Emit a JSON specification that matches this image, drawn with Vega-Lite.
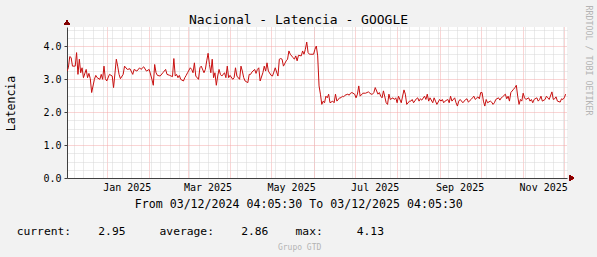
{
  "$schema": "https://vega.github.io/schema/vega-lite/v6.json",
  "width": 500,
  "height": 151,
  "autosize": {"type": "none"},
  "padding": {"left": 67, "top": 27, "right": 30, "bottom": 79},
  "background": "#f2f2f2",
  "view": {"fill": "#ffffff", "stroke": null},
  "config": {
    "font": "DejaVu Sans Mono",
    "axis": {"labelFont": "DejaVu Sans Mono", "titleFont": "DejaVu Sans Mono", "titleFontWeight": "normal"}
  },
  "title": {
    "text": "current:\u00a0\u00a0\u00a0\u00a02.95\u00a0\u00a0\u00a0\u00a0\u00a0average:\u00a0\u00a0\u00a0\u00a02.86\u00a0\u00a0\u00a0\u00a0max:\u00a0\u00a0\u00a0\u00a0\u00a04.13",
    "subtitle": "\u2800\u00a0\u00a0\u00a0\u00a0\u00a0\u00a0\u00a0\u00a0\u00a0\u00a0\u00a0\u00a0\u00a0\u00a0\u00a0\u00a0\u00a0\u00a0\u00a0\u00a0\u00a0\u00a0\u00a0\u00a0\u00a0\u00a0\u00a0\u00a0\u00a0\u00a0\u00a0\u00a0\u00a0\u00a0\u00a0\u00a0\u00a0\u00a0\u00a0\u00a0\u00a0\u00a0\u00a0\u00a0\u00a0\u00a0\u00a0\u00a0\u00a0\u00a0\u00a0\u00a0\u00a0Grupo GTD",
    "orient": "bottom",
    "anchor": "start",
    "frame": "group",
    "align": "left",
    "dx": -50.3,
    "offset": 16,
    "font": "DejaVu Sans Mono",
    "fontSize": 11.3,
    "fontWeight": "normal",
    "color": "#000000",
    "subtitleFont": "DejaVu Sans Mono",
    "subtitleFontSize": 8,
    "subtitleColor": "#b4b4b4",
    "subtitlePadding": 7
  },
  "data": {
    "values": [
      {"d": "2024-12-03", "v": 3.24}, {"d": "2024-12-04", "v": 3.34}, {"d": "2024-12-05", "v": 3.68}, {"d": "2024-12-06", "v": 3.65},
      {"d": "2024-12-07", "v": 3.39}, {"d": "2024-12-09", "v": 3.39}, {"d": "2024-12-10", "v": 3.80}, {"d": "2024-12-11", "v": 3.14},
      {"d": "2024-12-12", "v": 3.60}, {"d": "2024-12-13", "v": 3.19}, {"d": "2024-12-14", "v": 3.34}, {"d": "2024-12-15", "v": 3.04},
      {"d": "2024-12-17", "v": 3.29}, {"d": "2024-12-18", "v": 3.04}, {"d": "2024-12-19", "v": 3.17}, {"d": "2024-12-20", "v": 3.01},
      {"d": "2024-12-21", "v": 2.59}, {"d": "2024-12-23", "v": 2.99}, {"d": "2024-12-24", "v": 3.11}, {"d": "2024-12-25", "v": 3.04},
      {"d": "2024-12-27", "v": 2.99}, {"d": "2024-12-28", "v": 3.14}, {"d": "2024-12-29", "v": 2.99}, {"d": "2024-12-30", "v": 3.39},
      {"d": "2024-12-31", "v": 3.01}, {"d": "2025-01-01", "v": 2.94}, {"d": "2025-01-03", "v": 3.14}, {"d": "2025-01-05", "v": 3.09},
      {"d": "2025-01-06", "v": 2.74}, {"d": "2025-01-08", "v": 3.60}, {"d": "2025-01-09", "v": 3.39}, {"d": "2025-01-10", "v": 3.14},
      {"d": "2025-01-11", "v": 3.01}, {"d": "2025-01-13", "v": 3.14}, {"d": "2025-01-14", "v": 3.39}, {"d": "2025-01-16", "v": 3.29},
      {"d": "2025-01-18", "v": 3.31}, {"d": "2025-01-20", "v": 3.14}, {"d": "2025-01-21", "v": 3.29}, {"d": "2025-01-23", "v": 3.24},
      {"d": "2025-01-25", "v": 3.34}, {"d": "2025-01-26", "v": 3.29}, {"d": "2025-01-28", "v": 3.37}, {"d": "2025-01-30", "v": 3.24},
      {"d": "2025-02-01", "v": 3.29}, {"d": "2025-02-03", "v": 2.99}, {"d": "2025-02-04", "v": 2.81}, {"d": "2025-02-05", "v": 3.44},
      {"d": "2025-02-06", "v": 3.19}, {"d": "2025-02-07", "v": 3.11}, {"d": "2025-02-09", "v": 3.09}, {"d": "2025-02-11", "v": 3.19},
      {"d": "2025-02-13", "v": 3.29}, {"d": "2025-02-14", "v": 3.14}, {"d": "2025-02-16", "v": 3.11}, {"d": "2025-02-17", "v": 3.09},
      {"d": "2025-02-18", "v": 3.07}, {"d": "2025-02-19", "v": 3.62}, {"d": "2025-02-20", "v": 3.09}, {"d": "2025-02-21", "v": 3.14},
      {"d": "2025-02-22", "v": 3.04}, {"d": "2025-02-23", "v": 3.11}, {"d": "2025-02-24", "v": 2.99}, {"d": "2025-02-26", "v": 2.94},
      {"d": "2025-02-27", "v": 3.04}, {"d": "2025-02-28", "v": 3.11}, {"d": "2025-03-01", "v": 3.19}, {"d": "2025-03-03", "v": 3.34},
      {"d": "2025-03-04", "v": 3.29}, {"d": "2025-03-05", "v": 3.19}, {"d": "2025-03-06", "v": 3.49}, {"d": "2025-03-07", "v": 3.09},
      {"d": "2025-03-09", "v": 2.99}, {"d": "2025-03-10", "v": 3.34}, {"d": "2025-03-11", "v": 3.39}, {"d": "2025-03-13", "v": 3.19},
      {"d": "2025-03-14", "v": 3.29}, {"d": "2025-03-15", "v": 3.55}, {"d": "2025-03-16", "v": 3.78}, {"d": "2025-03-17", "v": 3.44},
      {"d": "2025-03-18", "v": 3.19}, {"d": "2025-03-19", "v": 3.60}, {"d": "2025-03-20", "v": 3.04}, {"d": "2025-03-21", "v": 3.19},
      {"d": "2025-03-22", "v": 2.81}, {"d": "2025-03-23", "v": 3.09}, {"d": "2025-03-24", "v": 3.29}, {"d": "2025-03-25", "v": 3.14},
      {"d": "2025-03-26", "v": 3.09}, {"d": "2025-03-28", "v": 3.19}, {"d": "2025-03-29", "v": 3.04}, {"d": "2025-03-30", "v": 3.39},
      {"d": "2025-03-31", "v": 3.04}, {"d": "2025-04-01", "v": 3.11}, {"d": "2025-04-03", "v": 2.99}, {"d": "2025-04-04", "v": 3.04},
      {"d": "2025-04-05", "v": 3.34}, {"d": "2025-04-06", "v": 3.09}, {"d": "2025-04-08", "v": 2.99}, {"d": "2025-04-09", "v": 3.39},
      {"d": "2025-04-10", "v": 3.24}, {"d": "2025-04-11", "v": 3.04}, {"d": "2025-04-12", "v": 2.94}, {"d": "2025-04-14", "v": 2.89},
      {"d": "2025-04-15", "v": 3.14}, {"d": "2025-04-16", "v": 3.14}, {"d": "2025-04-17", "v": 3.21}, {"d": "2025-04-19", "v": 3.29},
      {"d": "2025-04-20", "v": 3.17}, {"d": "2025-04-21", "v": 3.29}, {"d": "2025-04-22", "v": 3.34}, {"d": "2025-04-23", "v": 2.94},
      {"d": "2025-04-25", "v": 3.19}, {"d": "2025-04-26", "v": 3.39}, {"d": "2025-04-27", "v": 3.24}, {"d": "2025-04-28", "v": 3.49},
      {"d": "2025-04-29", "v": 3.24}, {"d": "2025-05-01", "v": 3.11}, {"d": "2025-05-02", "v": 3.09}, {"d": "2025-05-03", "v": 3.21},
      {"d": "2025-05-04", "v": 3.34}, {"d": "2025-05-06", "v": 3.09}, {"d": "2025-05-07", "v": 3.60}, {"d": "2025-05-08", "v": 3.62},
      {"d": "2025-05-09", "v": 3.60}, {"d": "2025-05-10", "v": 3.39}, {"d": "2025-05-12", "v": 3.55}, {"d": "2025-05-13", "v": 3.60},
      {"d": "2025-05-14", "v": 3.85}, {"d": "2025-05-15", "v": 3.75}, {"d": "2025-05-17", "v": 3.65}, {"d": "2025-05-18", "v": 3.60},
      {"d": "2025-05-19", "v": 3.70}, {"d": "2025-05-20", "v": 3.55}, {"d": "2025-05-21", "v": 3.72}, {"d": "2025-05-23", "v": 3.70},
      {"d": "2025-05-24", "v": 3.85}, {"d": "2025-05-25", "v": 3.75}, {"d": "2025-05-26", "v": 3.90}, {"d": "2025-05-27", "v": 4.12},
      {"d": "2025-05-28", "v": 3.80}, {"d": "2025-05-29", "v": 3.75}, {"d": "2025-05-30", "v": 3.75}, {"d": "2025-06-01", "v": 3.75},
      {"d": "2025-06-02", "v": 3.90}, {"d": "2025-06-03", "v": 4.00}, {"d": "2025-06-04", "v": 3.70}, {"d": "2025-06-05", "v": 2.79},
      {"d": "2025-06-06", "v": 2.54}, {"d": "2025-06-07", "v": 2.23}, {"d": "2025-06-08", "v": 2.33}, {"d": "2025-06-09", "v": 2.28},
      {"d": "2025-06-10", "v": 2.48}, {"d": "2025-06-11", "v": 2.43}, {"d": "2025-06-12", "v": 2.54}, {"d": "2025-06-13", "v": 2.28},
      {"d": "2025-06-15", "v": 2.33}, {"d": "2025-06-16", "v": 2.28}, {"d": "2025-06-17", "v": 2.54}, {"d": "2025-06-18", "v": 2.33},
      {"d": "2025-06-20", "v": 2.43}, {"d": "2025-06-21", "v": 2.43}, {"d": "2025-06-22", "v": 2.48}, {"d": "2025-06-23", "v": 2.46},
      {"d": "2025-06-24", "v": 2.51}, {"d": "2025-06-26", "v": 2.54}, {"d": "2025-06-27", "v": 2.51}, {"d": "2025-06-28", "v": 2.57},
      {"d": "2025-06-29", "v": 2.59}, {"d": "2025-07-01", "v": 2.54}, {"d": "2025-07-02", "v": 2.43}, {"d": "2025-07-03", "v": 2.54},
      {"d": "2025-07-04", "v": 2.79}, {"d": "2025-07-05", "v": 2.48}, {"d": "2025-07-07", "v": 2.57}, {"d": "2025-07-09", "v": 2.57},
      {"d": "2025-07-10", "v": 2.59}, {"d": "2025-07-11", "v": 2.61}, {"d": "2025-07-13", "v": 2.54}, {"d": "2025-07-14", "v": 2.54},
      {"d": "2025-07-15", "v": 2.59}, {"d": "2025-07-16", "v": 2.74}, {"d": "2025-07-18", "v": 2.54}, {"d": "2025-07-19", "v": 2.59},
      {"d": "2025-07-20", "v": 2.48}, {"d": "2025-07-21", "v": 2.43}, {"d": "2025-07-22", "v": 2.64}, {"d": "2025-07-24", "v": 2.28},
      {"d": "2025-07-25", "v": 2.23}, {"d": "2025-07-26", "v": 2.54}, {"d": "2025-07-27", "v": 2.38}, {"d": "2025-07-29", "v": 2.43},
      {"d": "2025-07-30", "v": 2.38}, {"d": "2025-07-31", "v": 2.43}, {"d": "2025-08-01", "v": 2.28}, {"d": "2025-08-02", "v": 2.48},
      {"d": "2025-08-04", "v": 2.28}, {"d": "2025-08-05", "v": 2.48}, {"d": "2025-08-06", "v": 2.67}, {"d": "2025-08-07", "v": 2.54},
      {"d": "2025-08-08", "v": 2.23}, {"d": "2025-08-10", "v": 2.33}, {"d": "2025-08-11", "v": 2.33}, {"d": "2025-08-12", "v": 2.38},
      {"d": "2025-08-13", "v": 2.28}, {"d": "2025-08-15", "v": 2.40}, {"d": "2025-08-16", "v": 2.43}, {"d": "2025-08-17", "v": 2.33},
      {"d": "2025-08-18", "v": 2.40}, {"d": "2025-08-19", "v": 2.36}, {"d": "2025-08-21", "v": 2.48}, {"d": "2025-08-22", "v": 2.38},
      {"d": "2025-08-23", "v": 2.54}, {"d": "2025-08-24", "v": 2.33}, {"d": "2025-08-25", "v": 2.43}, {"d": "2025-08-27", "v": 2.28},
      {"d": "2025-08-28", "v": 2.43}, {"d": "2025-08-29", "v": 2.33}, {"d": "2025-08-30", "v": 2.23}, {"d": "2025-09-01", "v": 2.38},
      {"d": "2025-09-02", "v": 2.33}, {"d": "2025-09-03", "v": 2.38}, {"d": "2025-09-04", "v": 2.28}, {"d": "2025-09-05", "v": 2.33},
      {"d": "2025-09-07", "v": 2.38}, {"d": "2025-09-08", "v": 2.28}, {"d": "2025-09-09", "v": 2.48}, {"d": "2025-09-10", "v": 2.33},
      {"d": "2025-09-12", "v": 2.43}, {"d": "2025-09-13", "v": 2.28}, {"d": "2025-09-14", "v": 2.18}, {"d": "2025-09-15", "v": 2.33},
      {"d": "2025-09-16", "v": 2.38}, {"d": "2025-09-18", "v": 2.28}, {"d": "2025-09-20", "v": 2.38}, {"d": "2025-09-21", "v": 2.40},
      {"d": "2025-09-22", "v": 2.30}, {"d": "2025-09-24", "v": 2.38}, {"d": "2025-09-25", "v": 2.43}, {"d": "2025-09-26", "v": 2.48},
      {"d": "2025-09-27", "v": 2.38}, {"d": "2025-09-29", "v": 2.46}, {"d": "2025-09-30", "v": 2.40}, {"d": "2025-10-01", "v": 2.59},
      {"d": "2025-10-02", "v": 2.59}, {"d": "2025-10-03", "v": 2.33}, {"d": "2025-10-04", "v": 2.18}, {"d": "2025-10-05", "v": 2.38},
      {"d": "2025-10-06", "v": 2.28}, {"d": "2025-10-08", "v": 2.33}, {"d": "2025-10-09", "v": 2.30}, {"d": "2025-10-10", "v": 2.23},
      {"d": "2025-10-11", "v": 2.28}, {"d": "2025-10-12", "v": 2.38}, {"d": "2025-10-14", "v": 2.43}, {"d": "2025-10-15", "v": 2.36},
      {"d": "2025-10-16", "v": 2.43}, {"d": "2025-10-17", "v": 2.46}, {"d": "2025-10-19", "v": 2.54}, {"d": "2025-10-20", "v": 2.40},
      {"d": "2025-10-21", "v": 2.48}, {"d": "2025-10-22", "v": 2.33}, {"d": "2025-10-23", "v": 2.59}, {"d": "2025-10-25", "v": 2.69},
      {"d": "2025-10-26", "v": 2.74}, {"d": "2025-10-27", "v": 2.81}, {"d": "2025-10-28", "v": 2.48}, {"d": "2025-10-29", "v": 2.23},
      {"d": "2025-10-30", "v": 2.38}, {"d": "2025-10-31", "v": 2.33}, {"d": "2025-11-01", "v": 2.57}, {"d": "2025-11-02", "v": 2.43},
      {"d": "2025-11-03", "v": 2.38}, {"d": "2025-11-05", "v": 2.43}, {"d": "2025-11-06", "v": 2.33}, {"d": "2025-11-07", "v": 2.38},
      {"d": "2025-11-08", "v": 2.28}, {"d": "2025-11-09", "v": 2.38}, {"d": "2025-11-11", "v": 2.43}, {"d": "2025-11-12", "v": 2.33},
      {"d": "2025-11-13", "v": 2.38}, {"d": "2025-11-14", "v": 2.48}, {"d": "2025-11-15", "v": 2.33}, {"d": "2025-11-17", "v": 2.38},
      {"d": "2025-11-18", "v": 2.48}, {"d": "2025-11-19", "v": 2.43}, {"d": "2025-11-20", "v": 2.38}, {"d": "2025-11-22", "v": 2.61},
      {"d": "2025-11-23", "v": 2.38}, {"d": "2025-11-24", "v": 2.40}, {"d": "2025-11-25", "v": 2.46}, {"d": "2025-11-26", "v": 2.33},
      {"d": "2025-11-28", "v": 2.30}, {"d": "2025-11-29", "v": 2.40}, {"d": "2025-11-30", "v": 2.38}, {"d": "2025-12-01", "v": 2.43},
      {"d": "2025-12-02", "v": 2.54}
    ]
  },
  "layer": [
    {
      "mark": {"type": "line", "opacity": 0},
      "encoding": {
        "x": {
          "field": "d", "type": "temporal",
          "scale": {"type": "utc", "domain": [{"year": 2024, "month": 12, "date": 3, "utc": true}, {"year": 2025, "month": 12, "date": 3, "utc": true}]},
          "axis": {
            "orient": "top", "grid": true, "gridColor": "#d6d6d6", "gridDash": [1, 1], "gridWidth": 1,
            "tickCount": {"interval": "week", "step": 1},
            "labels": false, "ticks": false, "domain": false,
            "title": "Nacional - Latencia - GOOGLE", "titleFontSize": 13, "titleColor": "#000000",
            "titleX": 231, "titleY": -8, "titleAlign": "center", "titleBaseline": "middle", "titleAngle": 0
          }
        },
        "y": {
          "field": "v", "type": "quantitative",
          "scale": {"domain": [0, 4.576], "nice": false, "zero": true},
          "axis": {
            "orient": "right", "grid": true, "gridColor": "#d6d6d6", "gridDash": [1, 1], "gridWidth": 1,
            "values": [0.25, 0.5, 0.75, 1.25, 1.5, 1.75, 2.25, 2.5, 2.75, 3.25, 3.5, 3.75, 4.25, 4.5],
            "labels": false, "ticks": false, "domain": false,
            "title": "RRDTOOL / TOBI OETIKER", "titleFontSize": 8.3, "titleColor": "#b4b4b4",
            "titleAngle": 90, "titleX": 20, "titleY": 33, "titleAlign": "center", "titleBaseline": "middle"
          }
        }
      }
    },
    {
      "mark": {"type": "line", "color": "#c81010", "strokeWidth": 1, "clip": true},
      "encoding": {
        "x": {
          "field": "d", "type": "temporal",
          "scale": {"type": "utc", "domain": [{"year": 2024, "month": 12, "date": 3, "utc": true}, {"year": 2025, "month": 12, "date": 3, "utc": true}]},
          "axis": {
            "orient": "bottom", "grid": true, "gridColor": "#f4abab", "gridDash": [1, 1], "gridWidth": 1,
            "tickCount": {"interval": "month", "step": 1},
            "labelExpr": "utcmonth(datum.value) % 2 == 0 ? utcFormat(datum.value, '%b %Y') : ''",
            "labelOverlap": false, "labelBound": false, "labelFlush": false,
            "labelOffset": 20, "labelFontSize": 10, "labelColor": "#000000", "labelPadding": 4,
            "ticks": false, "domain": true, "domainColor": "#404040", "domainWidth": 1,
            "title": "From 03/12/2024 04:05:30 To 03/12/2025 04:05:30", "titleFontSize": 11.6, "titleColor": "#000000",
            "titleX": 231.3, "titleY": 26, "titleAlign": "center", "titleBaseline": "middle"
          }
        },
        "y": {
          "field": "v", "type": "quantitative",
          "scale": {"domain": [0, 4.576], "nice": false, "zero": true},
          "axis": {
            "orient": "left", "grid": true, "gridColor": "#f4abab", "gridDash": [1, 1], "gridWidth": 1,
            "values": [0, 1, 2, 3, 4], "format": ".1f",
            "labelFontSize": 10, "labelColor": "#000000", "labelPadding": 3,
            "ticks": true, "tickSize": 3, "tickColor": "#404040",
            "domain": true, "domainColor": "#404040", "domainWidth": 1,
            "title": "Latencia", "titleFontSize": 11.5, "titleColor": "#000000",
            "titleAngle": -90, "titleX": -56, "titleY": 76, "titleAlign": "center", "titleBaseline": "middle"
          }
        }
      }
    },
    {
      "mark": {"type": "point", "shape": "triangle-up", "filled": true, "color": "#800000", "opacity": 1, "size": 22},
      "encoding": {
        "x": {"datum": {"year": 2024, "month": 12, "date": 3, "utc": true}, "type": "temporal", "axis": null},
        "y": {"datum": 4.72, "type": "quantitative", "axis": null}
      }
    },
    {
      "mark": {"type": "point", "shape": "triangle-right", "filled": true, "color": "#800000", "opacity": 1, "size": 22},
      "encoding": {
        "x": {"datum": {"year": 2025, "month": 12, "date": 6, "hours": 14, "utc": true}, "type": "temporal", "axis": null},
        "y": {"datum": 0, "type": "quantitative", "axis": null}
      }
    }
  ],
  "resolve": {"axis": {"x": "independent", "y": "independent"}}
}
